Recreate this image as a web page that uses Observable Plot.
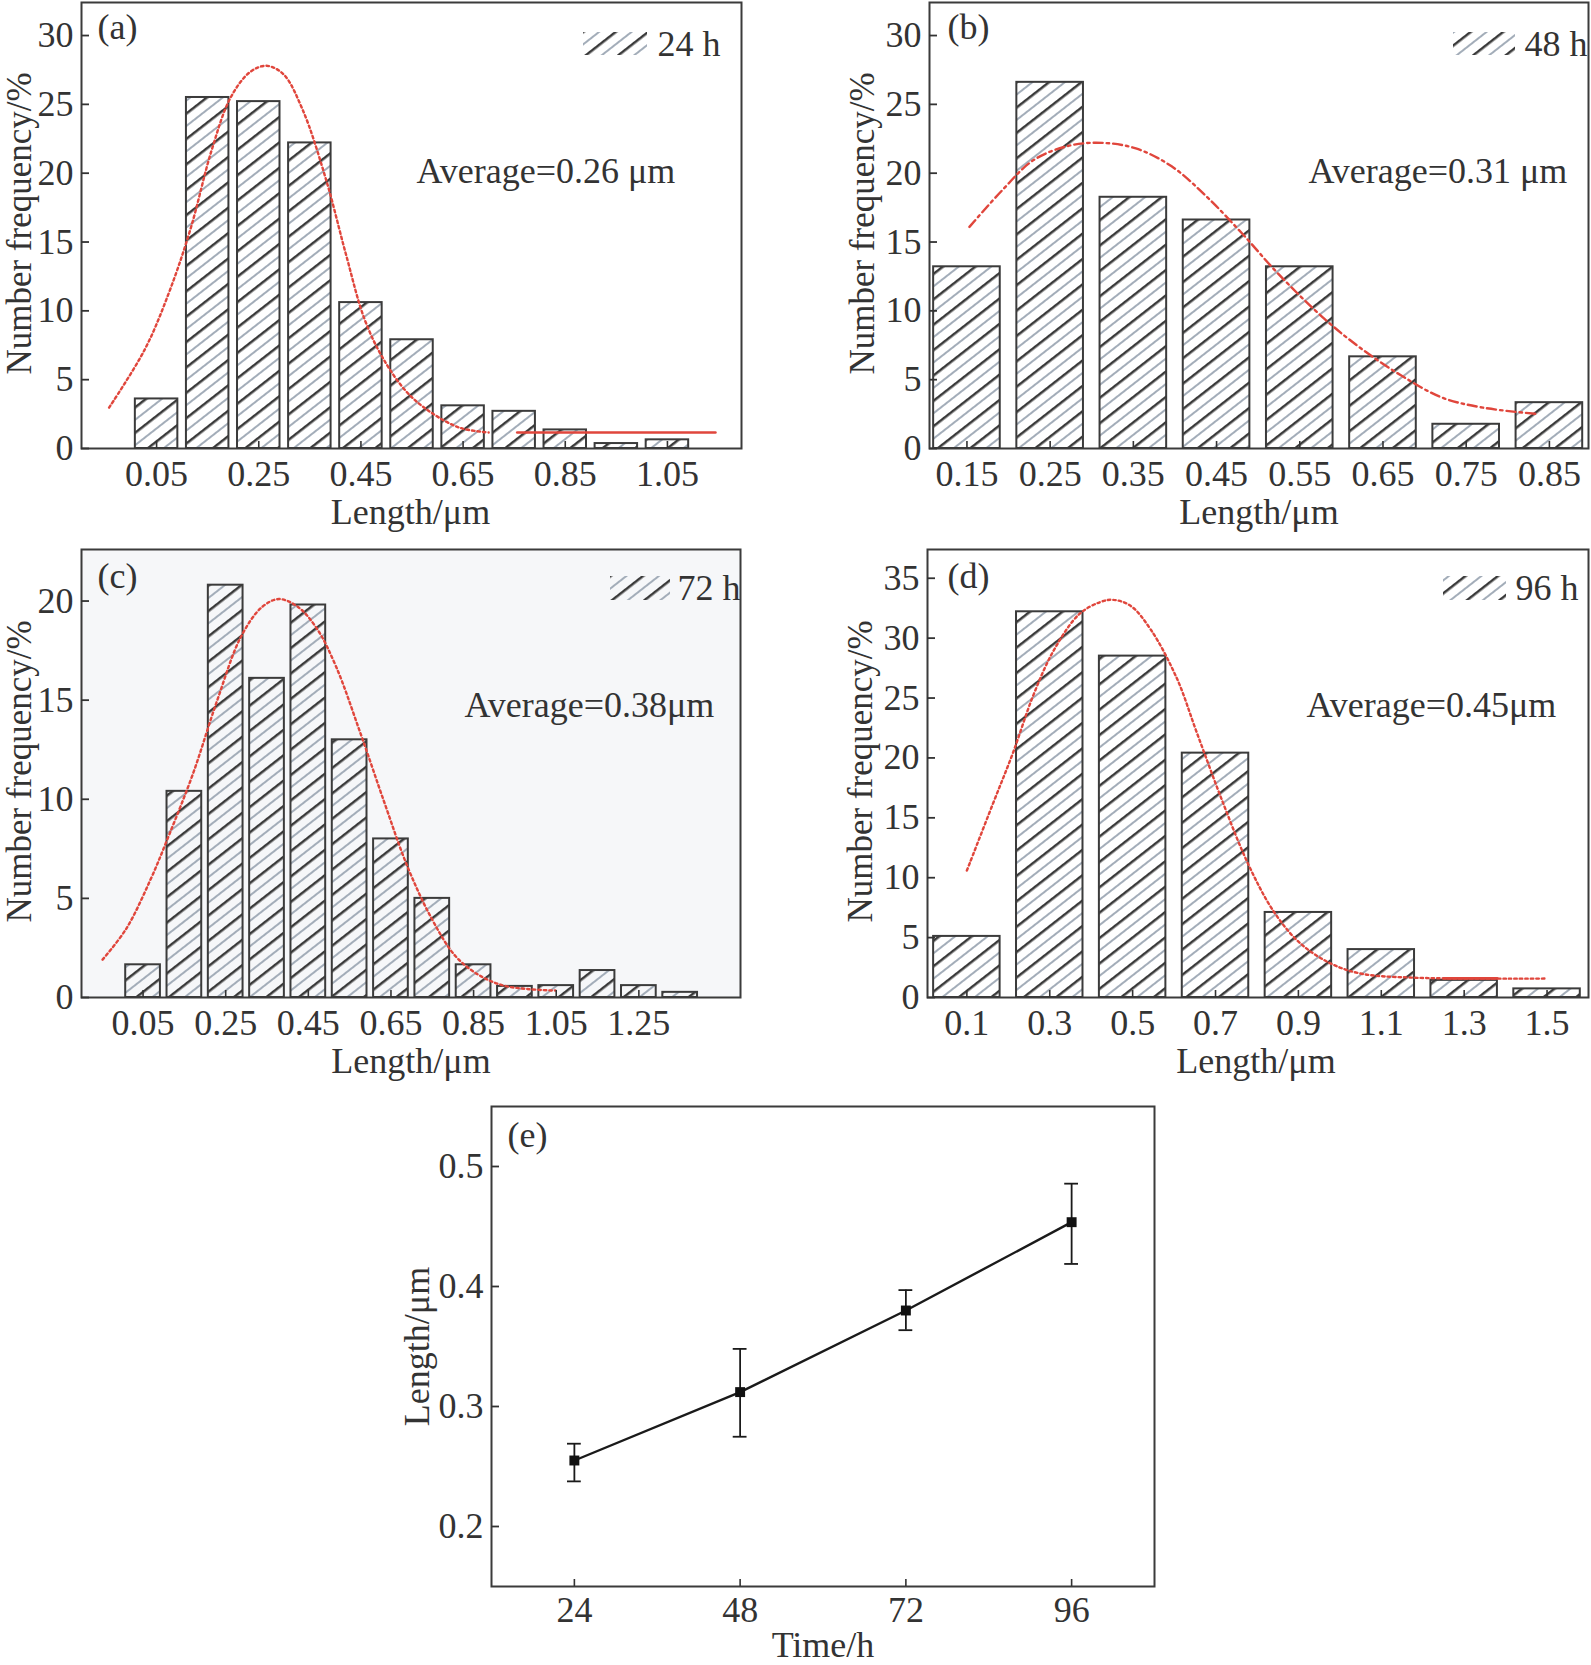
<!DOCTYPE html>
<html><head><meta charset="utf-8">
<script src="https://cdn.jsdelivr.net/npm/d3@7"></script>
<script src="https://cdn.jsdelivr.net/npm/@observablehq/plot@0.6"></script>
<style>
body{margin:0;background:#fff;}
#wrap{position:relative;width:1591px;height:1665px;overflow:hidden;background:#fff;}
#wrap svg.plot{position:absolute;}
</style></head><body>
<svg width="0" height="0" style="position:absolute">
<defs>
<pattern id="hatch" patternUnits="userSpaceOnUse" width="20" height="20" patternTransform="rotate(-38)">
<rect y="3" width="20" height="2.5" fill="#3a3a3a"/>
<rect y="13" width="20" height="2" fill="#a3adb9"/>
</pattern>
</defs></svg>
<div id="wrap"></div>
<script>
// ---------- data ----------
// (a) 24 h
const binsA = [0.05,0.15,0.25,0.35,0.45,0.55,0.65,0.75,0.85,0.95,1.05];
const freqA = [3.6,25.5,25.2,22.2,10.6,7.9,3.1,2.7,1.35,0.36,0.63];
const ticksXA = [0.05,0.25,0.45,0.65,0.85,1.05];
const ticksYA = [0,5,10,15,20,25,30];
const fitAx = [-0.043,0.027,0.074,0.116,0.158,0.195,0.233,0.265,0.298,0.336,0.382,0.42,0.457,0.494,0.541,0.588,0.644,0.70];
const fitAy = [2.97,7.2,11.3,15.9,21.7,25.5,27.35,27.8,27.2,24.6,19.5,14.2,9.4,6.5,4.05,2.6,1.5,1.16];
const tailAx = [0.756,1.144];
const tailAy = [1.16,1.16];
// (b) 48 h
const binsB = [0.15,0.25,0.35,0.45,0.55,0.65,0.75,0.85];
const freqB = [13.2,26.6,18.25,16.6,13.2,6.66,1.76,3.33];
const ticksXB = [0.15,0.25,0.35,0.45,0.55,0.65,0.75,0.85];
const ticksYB = [0,5,10,15,20,25,30];
const fitBx = [0.153,0.193,0.23,0.273,0.313,0.353,0.396,0.438,0.481,0.524,0.58,0.623,0.672,0.721,0.77,0.837];
const fitBy = [16.1,18.8,20.95,22.0,22.2,21.8,20.5,18.3,15.6,12.7,9.4,7.3,5.3,3.7,2.97,2.5];
// (c) 72 h
const binsC = [0.05,0.15,0.25,0.35,0.45,0.55,0.65,0.75,0.85,0.95,1.05,1.15,1.25,1.35];
const freqC = [1.65,10.4,20.8,16.1,19.8,13.0,8.0,5.0,1.65,0.56,0.6,1.36,0.6,0.26];
const ticksXC = [0.05,0.25,0.45,0.65,0.85,1.05,1.25];
const ticksYC = [0,5,10,15,20];
const fitCx = [-0.048,0.0096,0.067,0.113,0.171,0.229,0.287,0.338,0.379,0.425,0.471,0.517,0.575,0.633,0.69,0.748,0.806,0.863,0.921,0.979,1.048];
const fitCy = [1.91,3.48,5.9,8.2,11.3,14.96,18.2,19.7,20.1,19.7,18.6,16.7,13.4,9.9,6.6,4.0,2.09,1.13,0.61,0.43,0.35];
// (d) 96 h
const binsD = [0.1,0.3,0.5,0.7,0.9,1.1,1.3,1.5];
const freqD = [5.1,32.2,28.5,20.4,7.1,4.0,1.43,0.72];
const ticksXD = [0.1,0.3,0.5,0.7,0.9,1.1,1.3,1.5];
const ticksYD = [0,5,10,15,20,25,30,35];
const fitDx = [0.1,0.162,0.211,0.26,0.31,0.371,0.421,0.452,0.495,0.544,0.606,0.655,0.717,0.778,0.84,0.902,0.976,1.05,1.173,1.494];
const fitDy = [10.6,16.1,20.4,25.2,29.0,32.0,33.0,33.2,32.7,30.7,26.7,22.1,16.35,11.2,7.2,4.6,2.87,2.0,1.66,1.58];
const tailDx = [1.25,1.38];
const tailDy = [1.6,1.6];
// (e) average length vs time
const timesE = [24,48,72,96];
const lenE = [0.255,0.312,0.380,0.4536];
const lenLoE = [0.2376,0.2748,0.3636,0.4188];
const lenHiE = [0.269,0.348,0.397,0.4857];
const ticksXE = [24,48,72,96];
const ticksYE = [0.2,0.3,0.4,0.5];

// ---------- drawing ----------
const FONT = "'Liberation Serif','Times New Roman',serif";
const INK = "#333333";
const RED = "#e0463c";
const wrap = document.getElementById("wrap");
const style = {fontFamily: FONT, fontSize: "36px", color: INK, background: "transparent", overflow: "visible"};

function place(svg, left, top) {
  svg.classList.add("plot");
  svg.style.left = left + "px";
  svg.style.top = top + "px";
  wrap.appendChild(svg);
}

function hist(o) {
  const data = o.bins.map((c, i) => ({c, f: o.freq[i]}));
  const fit = o.fitX.map((x, i) => ({x, y: o.fitY[i]}));
  const marks = [];
  if (o.bg) marks.push(Plot.frame({fill: o.bg, stroke: null}));
  marks.push(Plot.rect(data, {
    x1: d => d.c - o.binW / 2, x2: d => d.c + o.binW / 2, y1: 0, y2: "f",
    insetLeft: o.inset, insetRight: o.inset,
    fill: "url(#hatch)", stroke: "#3b3b3b", strokeWidth: 2
  }));
  marks.push(Plot.line(fit, {x: "x", y: "y", curve: "catmull-rom", stroke: RED, strokeWidth: 2.4, strokeDasharray: o.dash}));
  if (o.tailX) marks.push(Plot.line(o.tailX.map((x, i) => ({x, y: o.tailY[i]})), {x: "x", y: "y", stroke: RED, strokeWidth: 2.6}));
  marks.push(Plot.frame({stroke: "#3b3b3b", strokeWidth: 2}));
  marks.push(Plot.axisY({ticks: o.yTicks, tickSize: -8, tickPadding: 16, tickFormat: d => String(d), label: null, strokeWidth: 1.8}));
  marks.push(Plot.axisX({ticks: o.xTicks, tickSize: -7, tickPadding: 19, tickFormat: o.xFmt, label: null, strokeWidth: 1.6}));
  marks.push(Plot.text([o.tag], {text: d => d, frameAnchor: "top-left", dx: o.tagDx, dy: o.tagDy, textAnchor: "start", lineAnchor: "bottom"}));
  marks.push(Plot.text([o.legend], {text: d => d, frameAnchor: "top-left", dx: o.legDx, dy: o.legDy, textAnchor: "start", lineAnchor: "bottom"}));
  marks.push(Plot.text([o.avg], {text: d => d, frameAnchor: "top-left", dx: o.avgDx, dy: o.avgDy, textAnchor: "start", lineAnchor: "bottom"}));
  marks.push(Plot.text(["Length/\u03bcm"], {text: d => d, frameAnchor: "bottom", dx: o.xlabDx, dy: o.xlabDy, textAnchor: "middle", lineAnchor: "bottom"}));
  marks.push(Plot.text(["Number frequency/%"], {text: d => d, frameAnchor: "left", dx: o.ylabDx, dy: -2, rotate: -90, textAnchor: "middle", lineAnchor: "middle", fontSize: 35}));
  const svg = Plot.plot({
    width: o.width, height: o.height,
    marginLeft: o.mL, marginRight: o.mR, marginTop: o.mT, marginBottom: o.mB,
    x: {domain: o.xDomain}, y: {domain: o.yDomain},
    style, marks
  });
  // legend swatch
  d3.select(svg).append("rect")
    .attr("x", o.sw[0]).attr("y", o.sw[1]).attr("width", o.sw[2]).attr("height", o.sw[3])
    .attr("fill", "url(#hatch)");
  place(svg, o.left, o.top);
}

const f2 = d => d.toFixed(2);
const f1 = d => d.toFixed(1);

hist({left: 0, top: 0, width: 760, height: 540, mL: 81, mR: 19, mT: 2, mB: 92,
  xDomain: [-0.097, 1.195], yDomain: [0, 32.4], xTicks: ticksXA, yTicks: ticksYA, xFmt: f2,
  bins: binsA, freq: freqA, binW: 0.1, inset: 4.3, fitX: fitAx, fitY: fitAy, dash: "2.5 3",
  tailX: tailAx, tailY: tailAy,
  tag: "(a)", tagDx: 16, tagDy: 36, legend: "24 h", legDx: 576, legDy: 53, sw: [583, 32, 64, 23],
  avg: "Average=0.26 \u03bcm", avgDx: 335, avgDy: 180, xlabDx: -1, xlabDy: 75, ylabDx: -62});

hist({left: 790, top: 0, width: 801, height: 540, mL: 139, mR: 3, mT: 2, mB: 92,
  xDomain: [0.105, 0.897], yDomain: [0, 32.4], xTicks: ticksXB, yTicks: ticksYB, xFmt: f2,
  bins: binsB, freq: freqB, binW: 0.1, inset: 8.3, fitX: fitBx, fitY: fitBy, dash: "9 4 2.5 4",
  tag: "(b)", tagDx: 18, tagDy: 36, legend: "48 h", legDx: 595, legDy: 53, sw: [663, 32, 62, 23],
  avg: "Average=0.31 \u03bcm", avgDx: 379, avgDy: 180, xlabDx: 0, xlabDy: 75, ylabDx: -67});

hist({left: 0, top: 540, width: 760, height: 540, mL: 81, mR: 20, mT: 9, mB: 83,
  xDomain: [-0.099, 1.496], yDomain: [0, 22.6], xTicks: ticksXC, yTicks: ticksYC, xFmt: f2,
  bins: binsC, freq: freqC, binW: 0.1, inset: 3.3, fitX: fitCx, fitY: fitCy, dash: "2.5 3", bg: "#f6f7f9",
  tag: "(c)", tagDx: 16, tagDy: 38, legend: "72 h", legDx: 596, legDy: 50, sw: [610, 36, 60, 24],
  avg: "Average=0.38\u03bcm", avgDx: 383, avgDy: 167, xlabDx: 0, xlabDy: 75, ylabDx: -62});

hist({left: 790, top: 540, width: 801, height: 540, mL: 137, mR: 3, mT: 9, mB: 83,
  xDomain: [0.005, 1.6], yDomain: [0, 37.4], xTicks: ticksXD, yTicks: ticksYD, xFmt: f1,
  bins: binsD, freq: freqD, binW: 0.2, inset: 8.2, fitX: fitDx, fitY: fitDy, dash: "2.5 3",
  tailX: tailDx, tailY: tailDy,
  tag: "(d)", tagDx: 20, tagDy: 38, legend: "96 h", legDx: 588, legDy: 50, sw: [653, 36, 63, 24],
  avg: "Average=0.45\u03bcm", avgDx: 379, avgDy: 167, xlabDx: -2, xlabDy: 75, ylabDx: -67});

// (e)
{
  const data = timesE.map((t, i) => ({t, v: lenE[i], lo: lenLoE[i], hi: lenHiE[i]}));
  const svg = Plot.plot({
    width: 790, height: 575, marginLeft: 101, marginRight: 26, marginTop: 16, marginBottom: 79,
    x: {domain: [12, 108]}, y: {domain: [0.15, 0.55]},
    style,
    marks: [
      Plot.frame({stroke: "#3b3b3b", strokeWidth: 2}),
      Plot.ruleX(data, {x: "t", y1: "lo", y2: "hi", stroke: "#1a1a1a", strokeWidth: 1.8}),
      Plot.ruleY(data, {y: "lo", x1: d => d.t - 1, x2: d => d.t + 1, stroke: "#1a1a1a", strokeWidth: 1.8}),
      Plot.ruleY(data, {y: "hi", x1: d => d.t - 1, x2: d => d.t + 1, stroke: "#1a1a1a", strokeWidth: 1.8}),
      Plot.line(data, {x: "t", y: "v", stroke: "#1a1a1a", strokeWidth: 2.4}),
      Plot.dot(data, {x: "t", y: "v", symbol: "square", r: 5.6, fill: "#111", stroke: null}),
      Plot.axisY({ticks: ticksYE, tickSize: -8, tickPadding: 16, tickFormat: f1, label: null, strokeWidth: 1.8}),
      Plot.axisX({ticks: ticksXE, tickSize: -7, tickPadding: 17, tickFormat: d => String(d), label: null, strokeWidth: 1.6}),
      Plot.text(["(e)"], {text: d => d, frameAnchor: "top-left", dx: 16, dy: 40, textAnchor: "start", lineAnchor: "bottom"}),
      Plot.text(["Time/h"], {text: d => d, frameAnchor: "bottom", dx: 0, dy: 70, textAnchor: "middle", lineAnchor: "bottom"}),
      Plot.text(["Length/\u03bcm"], {text: d => d, frameAnchor: "left", dx: -74, rotate: -90, textAnchor: "middle", lineAnchor: "middle"})
    ]
  });
  place(svg, 390, 1090);
}
</script>
</body></html>
